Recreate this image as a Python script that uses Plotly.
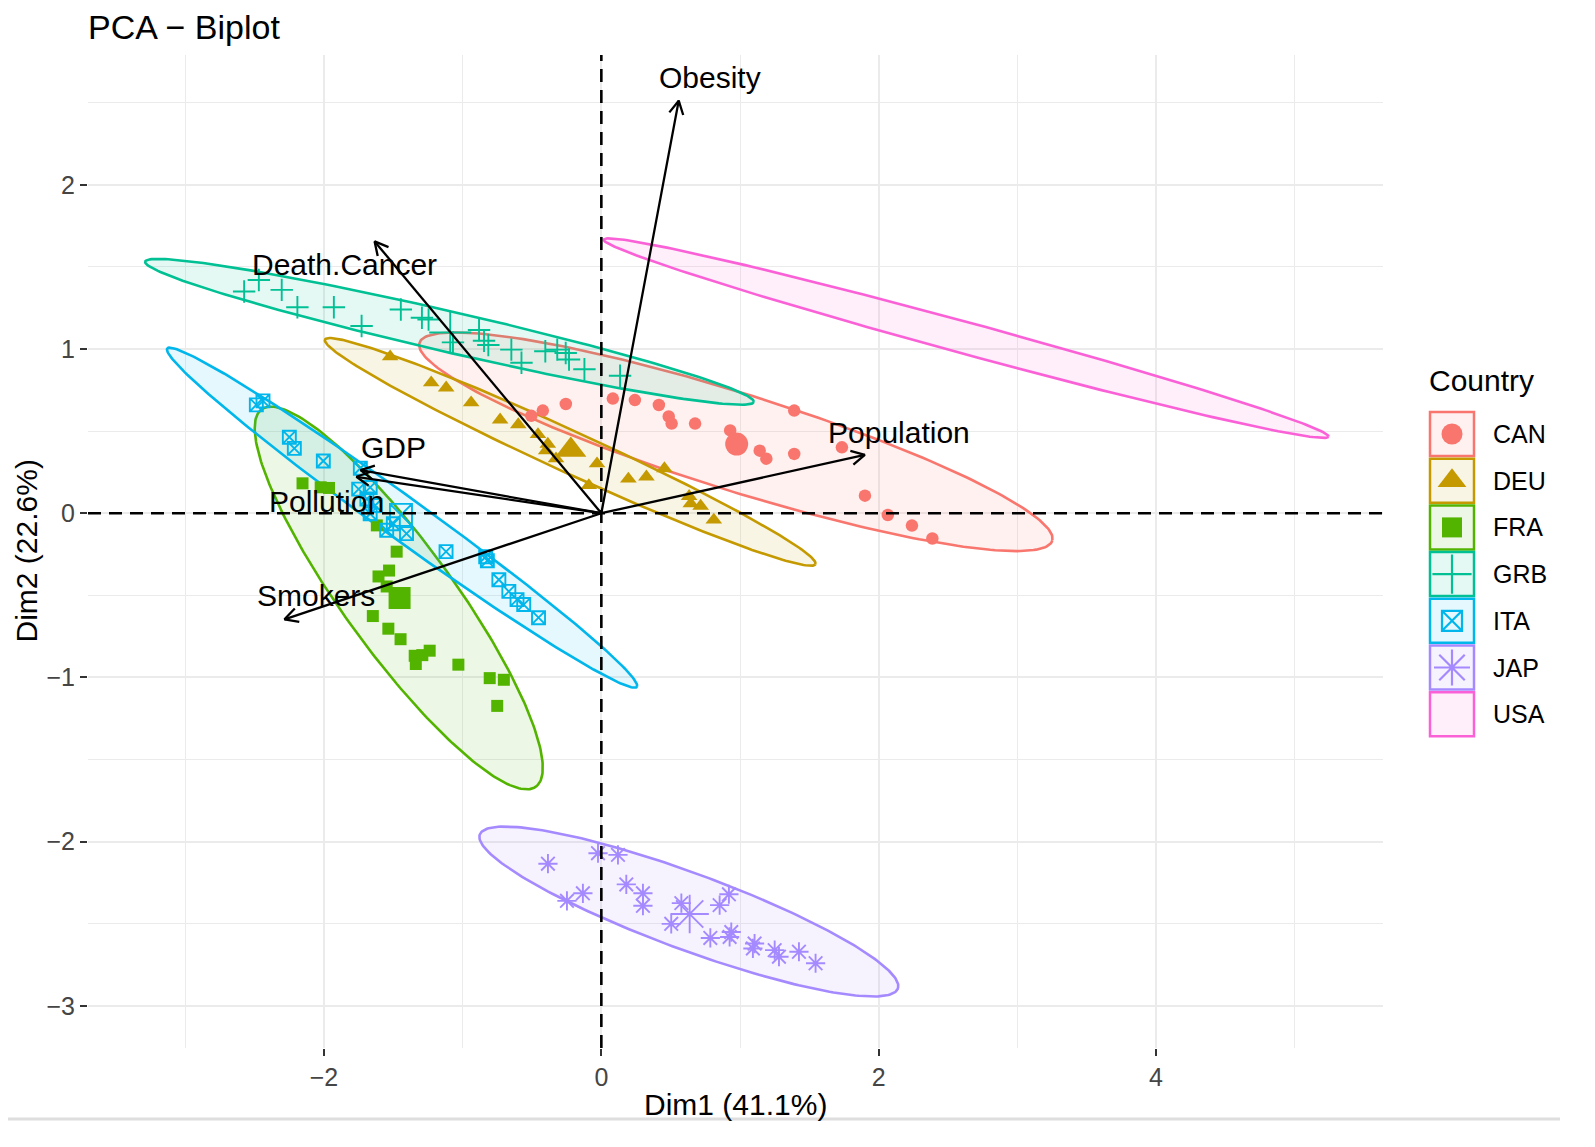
import numpy as np
import plotly.graph_objects as go

# the page adds an 8px body margin, so the figure is made that much smaller
# and every pixel position below is given in window pixels
OFF = 8
W, H = 1595 - 2 * OFF, 1147 - 2 * OFF
FONT = "Liberation Sans, Arial, sans-serif"


def px(x):
    return (x - OFF) / W


def py(y):
    return 1 - (y - OFF) / H


countries = ["CAN", "DEU", "FRA", "GRB", "ITA", "JAP", "USA"]
colors = ["#F8766D", "#C49A00", "#53B400", "#00C094", "#00B6EB", "#A58AFF", "#FB61D7"]
symbols = ["circle", "triangle-up", "square", "cross-thin-open", "square-x-open", "asterisk-open", None]

# individuals (PCA scores)
can_x = [-0.505, -0.422, -0.256, 0.083, 0.242, 0.415, 0.486, 0.507, 0.676, 0.929, 1.142, 1.190,
         1.391, 1.391, 1.735, 1.901, 2.066, 2.240, 2.387]
can_y = [0.593, 0.625, 0.665, 0.698, 0.689, 0.659, 0.589, 0.546, 0.546, 0.504, 0.381, 0.332,
         0.625, 0.361, 0.401, 0.107, -0.011, -0.075, -0.154]
deu_x = [-1.523, -1.227, -1.119, -0.939, -0.730, -0.599, -0.457, -0.386, -0.398, -0.327, -0.031,
         -0.090, 0.195, 0.325, 0.455, 0.633, 0.645, 0.716, 0.811]
deu_y = [0.953, 0.795, 0.764, 0.673, 0.569, 0.540, 0.480, 0.421, 0.381, 0.332, 0.302,
         0.169, 0.209, 0.222, 0.272, 0.103, 0.058, 0.044, -0.041]
fra_x = [-2.155, -2.024, -1.964, -1.619, -1.476, -1.607, -1.531, -1.548, -1.648, -1.536, -1.448,
         -1.346, -1.338, -1.291, -1.238, -1.031, -0.805, -0.703, -0.751]
fra_y = [0.182, 0.158, 0.154, -0.074, -0.234, -0.385, -0.349, -0.446, -0.626, -0.703, -0.767,
         -0.868, -0.918, -0.864, -0.837, -0.922, -1.004, -1.014, -1.173]
grb_x = [-2.576, -2.470, -2.305, -2.192, -1.929, -1.729, -1.446, -1.294, -1.246, -1.070, -0.882,
         -0.846, -0.815, -0.649, -0.576, -0.404, -0.318, -0.257, -0.233, -0.122, 0.135]
grb_y = [1.350, 1.420, 1.360, 1.254, 1.254, 1.140, 1.240, 1.190, 1.180, 1.040, 1.116,
         1.050, 1.024, 0.996, 0.916, 0.986, 0.996, 0.976, 0.936, 0.877, 0.837]
ita_x = [-2.488, -2.440, -2.250, -2.214, -2.005, -1.738, -1.750, -1.667, -1.691, -1.631, -1.667,
         -1.548, -1.500, -1.405, -1.120, -0.834, -0.822, -0.739, -0.667, -0.608, -0.560, -0.453]
ita_y = [0.660, 0.684, 0.463, 0.395, 0.318, 0.274, 0.147, 0.157, 0.087, 0.047, -0.003,
         -0.104, -0.064, -0.124, -0.234, -0.265, -0.289, -0.405, -0.476, -0.526, -0.556, -0.636]
jap_x = [-0.385, -0.024, 0.120, -0.133, -0.248, 0.180, 0.300, 0.300, 0.577, 0.504, 0.920,
         0.853, 0.786, 0.925, 0.937, 1.105, 1.093, 1.250, 1.281, 1.425, 1.545]
jap_y = [-2.134, -2.070, -2.080, -2.314, -2.360, -2.260, -2.314, -2.390, -2.374, -2.500, -2.320,
         -2.386, -2.586, -2.580, -2.550, -2.620, -2.650, -2.660, -2.700, -2.670, -2.740]
usa_x, usa_y = [], []

# group means (big symbols)
mean_x = [0.976, -0.220, -1.455, -1.090, -1.445, 0.637, None]
mean_y = [0.421, 0.385, -0.516, 1.100, -0.010, -2.440, None]

# ellipses: centre, semi axes, angle (deg)
ell_cx = [0.970, -0.2245, -1.461, -1.095, -1.437, 0.631, 2.631]
ell_cy = [0.435, 0.3735, -0.516, 1.1045, -0.027, -2.425, 1.066]
ell_a = [2.36, 1.896, 1.517, 2.236, 1.982, 1.579, 2.682]
ell_b = [0.30, 0.13, 0.368, 0.125, 0.135, 0.237, 0.0975]
ell_ang = [-14.7, -21.1, -48.7, -11.0, -31.27, -17.13, -12.93]

# variables (loadings)
var_names = ["Obesity", "Death.Cancer", "GDP", "Pollution", "Smokers", "Population"]
var_x = [0.558, -1.635, -1.736, -1.766, -2.285, 1.900]
var_y = [2.512, 1.655, 0.262, 0.222, -0.646, 0.355]
lab_x = [0.78, -1.855, -1.50, -1.98, -2.06, 2.15]
lab_y = [2.65, 1.515, 0.40, 0.07, -0.50, 0.49]

pts_x = [can_x, deu_x, fra_x, grb_x, ita_x, jap_x, usa_x]
pts_y = [can_y, deu_y, fra_y, grb_y, ita_y, jap_y, usa_y]

x_range = [-3.702, 5.637]
y_range = [-3.256, 2.790]
x_dom = [px(88), px(1383)]
y_dom = [py(1048), py(55)]
sx = (x_dom[1] - x_dom[0]) * W / (x_range[1] - x_range[0])
sy = (y_dom[1] - y_dom[0]) * H / (y_range[1] - y_range[0])


def rgba(hex_col, a):
    h = hex_col.lstrip("#")
    return "rgba(%d,%d,%d,%s)" % (int(h[0:2], 16), int(h[2:4], 16), int(h[4:6], 16), a)


small_size = {"circle": 12.5, "triangle-up": 14.5, "square": 12, "cross-thin-open": 16,
              "square-x-open": 13, "asterisk-open": 16}
big_size = {"circle": 23, "triangle-up": 27, "square": 22, "cross-thin-open": 30,
            "square-x-open": 22, "asterisk-open": 32}

fig = go.Figure()

# reference dashed lines
fig.add_shape(type="line", xref="x", yref="y domain", x0=0, x1=0, y0=0, y1=1,
              line=dict(color="black", width=2.6, dash="13px,8px"), layer="above")
fig.add_shape(type="line", xref="x domain", yref="y", x0=0, x1=1, y0=0, y1=0,
              line=dict(color="black", width=2.6, dash="13px,8px"), layer="above")

# ellipses
t = np.linspace(0, 2 * np.pi, 240)
for i, c in enumerate(countries):
    th = np.radians(ell_ang[i])
    ex = ell_cx[i] + ell_a[i] * np.cos(t) * np.cos(th) - ell_b[i] * np.sin(t) * np.sin(th)
    ey = ell_cy[i] + ell_a[i] * np.cos(t) * np.sin(th) + ell_b[i] * np.sin(t) * np.cos(th)
    fig.add_trace(go.Scatter(x=ex, y=ey, mode="lines", fill="toself",
                             fillcolor=rgba(colors[i], 0.1),
                             line=dict(color=colors[i], width=2.6),
                             hoverinfo="skip", showlegend=False))

# points
for i, c in enumerate(countries):
    sym = symbols[i]
    if sym is None:
        continue
    lw = 1.9 if sym.endswith("open") else 0
    fig.add_trace(go.Scatter(x=pts_x[i], y=pts_y[i], mode="markers", name=c,
                             marker=dict(symbol=sym, size=small_size[sym], color=colors[i],
                                         line=dict(color=colors[i], width=lw)),
                             showlegend=False))
    fig.add_trace(go.Scatter(x=[mean_x[i]], y=[mean_y[i]], mode="markers",
                             marker=dict(symbol=sym, size=big_size[sym], color=colors[i],
                                         line=dict(color=colors[i], width=lw)),
                             showlegend=False, hoverinfo="skip"))

# variable arrows
head_len, head_ang = 15, np.radians(28)
for i, v in enumerate(var_names):
    fig.add_trace(go.Scatter(x=[0, var_x[i]], y=[0, var_y[i]], mode="lines",
                             line=dict(color="black", width=2.3),
                             showlegend=False, hoverinfo="skip"))
    dx, dy = var_x[i] * sx, var_y[i] * sy
    n = np.hypot(dx, dy)
    ux, uy = dx / n, dy / n
    hx, hy = [], []
    for s in (1, -1):
        ca, sa = np.cos(s * head_ang), np.sin(s * head_ang)
        rx, ry = ux * ca - uy * sa, ux * sa + uy * ca
        hx.append(var_x[i] - head_len * rx / sx)
        hy.append(var_y[i] - head_len * ry / sy)
    fig.add_trace(go.Scatter(x=[hx[0], var_x[i], hx[1]], y=[hy[0], var_y[i], hy[1]],
                             mode="lines", line=dict(color="black", width=2.3),
                             showlegend=False, hoverinfo="skip"))
    fig.add_annotation(x=lab_x[i], y=lab_y[i], text=v, showarrow=False,
                       xanchor="center", yanchor="middle",
                       font=dict(family=FONT, size=30, color="black"))

# hand-made legend; its own small pixel axis only covers the legend keys
leg_x0, leg_top, leg_step, box = 1430, 412, 46.7, 44
lg_x = [1420, 1490]
lg_y = [760, 400]
for i, c in enumerate(countries):
    y0 = leg_top + i * leg_step
    fig.add_shape(type="rect", xref="x2", yref="y2", x0=leg_x0, x1=leg_x0 + box,
                  y0=y0, y1=y0 + box, fillcolor=rgba(colors[i], 0.1),
                  line=dict(color=colors[i], width=2.5), layer="below")
    fig.add_annotation(xref="paper", yref="paper", x=px(leg_x0 + box + 17),
                       y=py(y0 + box / 2), text=c, showarrow=False,
                       xanchor="left", yanchor="middle",
                       font=dict(family=FONT, size=25, color="black"))
    if symbols[i] is not None:
        sym = symbols[i]
        lw = 2.2 if sym.endswith("open") else 0
        fig.add_trace(go.Scatter(x=[leg_x0 + box / 2], y=[y0 + box / 2], xaxis="x2", yaxis="y2",
                                 mode="markers", showlegend=False, hoverinfo="skip",
                                 marker=dict(symbol=sym, size=big_size[sym] - 2, color=colors[i],
                                             line=dict(color=colors[i], width=lw))))
fig.add_annotation(xref="paper", yref="paper", x=px(1427), y=py(381), text="Country",
                   showarrow=False, xanchor="left", yanchor="middle",
                   font=dict(family=FONT, size=30, color="black"))

# titles
fig.add_annotation(xref="paper", yref="paper", x=px(86), y=py(27), text="PCA \u2212 Biplot",
                   showarrow=False, xanchor="left", yanchor="middle",
                   font=dict(family=FONT, size=34, color="black"))
fig.add_annotation(xref="paper", yref="paper", x=(x_dom[0] + x_dom[1]) / 2, y=py(1104),
                   text="Dim1 (41.1%)", showarrow=False, xanchor="center", yanchor="middle",
                   font=dict(family=FONT, size=30, color="black"))
fig.add_annotation(xref="paper", yref="paper", x=px(26), y=(y_dom[0] + y_dom[1]) / 2,
                   text="Dim2 (22.6%)", showarrow=False, textangle=-90,
                   xanchor="center", yanchor="middle",
                   font=dict(family=FONT, size=30, color="black"))
fig.add_shape(type="line", xref="paper", yref="paper", x0=px(8), x1=px(1560),
              y0=py(1119), y1=py(1119), line=dict(color="#dedede", width=3))

grid = "#ebebeb"
tick_font = dict(family=FONT, size=25, color="#454545")
fig.update_layout(
    width=W, height=H,
    margin=dict(l=0, r=0, t=0, b=0),
    paper_bgcolor="white", plot_bgcolor="white",
    font=dict(family=FONT),
    xaxis=dict(domain=x_dom, range=x_range, tick0=0, dtick=2, showgrid=True,
               gridcolor=grid, gridwidth=2, zeroline=False, showline=False,
               ticks="outside", ticklen=7, tickwidth=2.2, tickcolor="#333333",
               tickfont=tick_font,
               minor=dict(dtick=1, showgrid=True, gridcolor=grid, gridwidth=1)),
    yaxis=dict(domain=y_dom, range=y_range, tick0=0, dtick=1, showgrid=True,
               gridcolor=grid, gridwidth=2, zeroline=False, showline=False,
               ticks="outside", ticklen=7, tickwidth=2.2, tickcolor="#333333",
               tickfont=tick_font,
               minor=dict(dtick=0.5, showgrid=True, gridcolor=grid, gridwidth=1)),
    xaxis2=dict(domain=[px(lg_x[0]), px(lg_x[1])], range=lg_x, visible=False, anchor="y2",
                fixedrange=True),
    yaxis2=dict(domain=[py(lg_y[0]), py(lg_y[1])], range=lg_y, visible=False,
                anchor="x2", fixedrange=True),
)

fig.write_html("out.html")
